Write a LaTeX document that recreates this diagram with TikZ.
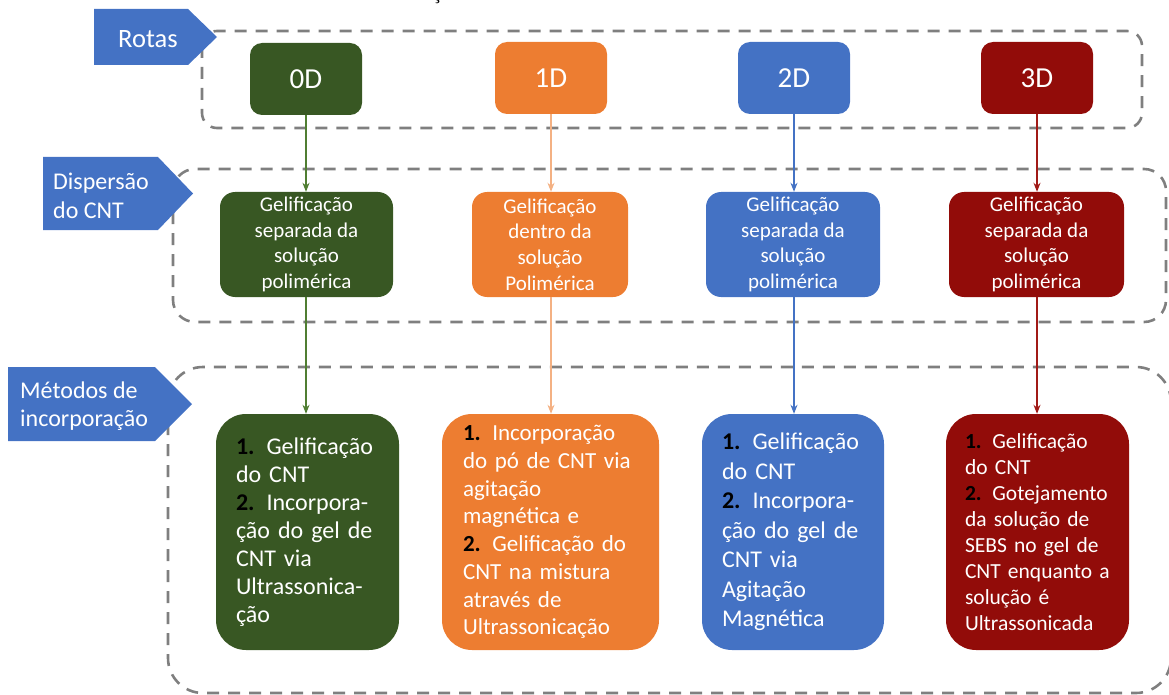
\documentclass[tikz,border=0pt]{standalone}
\usepackage{fontspec}
\setmainfont{Carlito}
\newfontfamily\serifcut{Liberation Serif}
\usetikzlibrary{arrows.meta}
\definecolor{cgreen}{HTML}{385723}
\definecolor{corange}{HTML}{ED7D31}
\definecolor{cblue}{HTML}{4472C4}
\definecolor{cred}{HTML}{920C09}
\definecolor{lgreen}{HTML}{507E32}
\definecolor{lorange}{HTML}{F4B183}
\definecolor{lblue}{HTML}{4472C4}
\definecolor{lred}{HTML}{A11A17}
\definecolor{dgray}{HTML}{7F7F7F}
\newcommand{\nb}[1]{\textbf{\color{black}#1}}
\begin{document}
\begin{tikzpicture}[x=1pt,y=-1pt,
 frame/.style={draw=dgray, line width=2.6pt, dash pattern=on 12pt off 9pt},
 banner/.style={fill=cblue},
 bannertext/.style={text=white, align=left, inner sep=0pt, font=\fontsize{24}{28.5}\selectfont},
 topbox/.style={rounded corners=12pt, minimum width=112pt, minimum height=72pt, inner sep=0pt, text=white, font=\fontsize{29}{32}\selectfont},
 midbox/.style={rounded corners=15pt, minimum height=105pt, inner sep=0pt, text=white, align=center, font=\fontsize{21}{25.7}\selectfont},
 botbox/.style={rounded corners=30pt, minimum height=236pt, inner xsep=20pt, inner ysep=0pt, text=white, align=left},
 arr/.style={line width=1.2pt, -{Stealth[length=9pt,width=7pt]}},
]
\useasboundingbox (0,0) rectangle (1169,695);

% stray glyph at the top edge
\node[font=\fontsize{20}{20}\selectfont\serifcut, anchor=base, inner sep=0pt] (ced) at (437,0) {ç};

% dashed frames
\draw[frame, rounded corners=15pt] (202,31) rectangle (1142,128);
\draw[frame, rounded corners=22pt] (173,169) rectangle (1166,322);
\draw[frame, rounded corners=35pt] (168,367) rectangle (1171,693);

% banners
\fill[banner] (94,9) -- (188,9) -- (217,37) -- (188,65) -- (94,65) -- cycle;
\fill[banner] (43,157) -- (158,157) -- (193,193.5) -- (158,230) -- (43,230) -- cycle;
\fill[banner] (8,367) -- (155,367) -- (192,404) -- (155,441) -- (8,441) -- cycle;
\node[bannertext, anchor=base west, font=\fontsize{26.5}{30}\selectfont] (lrotas) at (118,48) {Rotas};
\node[bannertext, anchor=west] (ldisp) at (53,196) {Dispersão\\do CNT};
\node[bannertext, anchor=west] (lmet) at (20,406) {Métodos de\\incorporação};

% top boxes
\node[topbox, fill=cgreen] (t0) at (306,79) {0D};
\node[topbox, fill=corange] (t1) at (551,78) {1D};
\node[topbox, fill=cblue] (t2) at (794,78) {2D};
\node[topbox, fill=cred] (t3) at (1037,78) {3D};

% middle boxes
\node[midbox, fill=cgreen, minimum width=173pt] (m0) at (306.5,244.5) {Gelificação\\separada da\\solução\\polimérica};
\node[midbox, fill=corange, minimum width=156pt] (m1) at (550,244.5) {Gelificação\\dentro da\\solução\\Polimérica};
\node[midbox, fill=cblue, minimum width=174pt] (m2) at (793,244.5) {Gelificação\\separada da\\solução\\polimérica};
\node[midbox, fill=cred, minimum width=175pt] (m3) at (1036.5,244.5) {Gelificação\\separada da\\solução\\polimérica};

% bottom boxes
\node[botbox, fill=cgreen, minimum width=183pt, text width=143pt, font=\fontsize{24}{28}\selectfont] (b0) at (307.5,532)
 {\nb{1.} Gelificação\\do CNT\\\nb{2.} Incorpora-\\ção do gel de\\CNT via\\Ultrassonica-\\ção};
\node[botbox, fill=corange, minimum width=217pt, text width=175pt, inner xsep=21pt, font=\fontsize{23}{27.7}\selectfont] (b1) at (550.5,532)
 {\nb{1.} Incorporação\\do pó de CNT via\\agitação\\magnética e\\\nb{2.} Gelificação do\\CNT na mistura\\através de\\Ultrassonicação};
\node[botbox, fill=cblue, minimum width=182pt, text width=142pt, font=\fontsize{24}{29.5}\selectfont] (b2) at (793,532)
 {\nb{1.} Gelificação\\do CNT\\\nb{2.} Incorpora-\\ção do gel de\\CNT via\\Agitação\\Magnética};
\node[botbox, fill=cred, minimum width=183pt, text width=155pt, inner xsep=14pt, font=\fontsize{21.5}{26}\selectfont] (b3) at (1037.5,532)
 {\hspace*{5pt}\nb{1.} Gelificação\\\hspace*{5pt}do CNT\\\hspace*{5pt}\nb{2.} Gotejamento\\\hspace*{5pt}da solução de\\\hspace*{5pt}SEBS no gel de\\\hspace*{5pt}CNT enquanto a\\\hspace*{5pt}solução é\\\hspace*{5pt}Ultrassonicada};

% connectors
\draw[arr, lgreen] (t0.south) -- (t0.south |- m0.north);
\draw[arr, lorange] (t1.south) -- (t1.south |- m1.north);
\draw[arr, lblue] (t2.south) -- (t2.south |- m2.north);
\draw[arr, lred] (t3.south) -- (t3.south |- m3.north);
\draw[arr, lgreen] (t0.south |- m0.south) -- (t0.south |- b0.north);
\draw[arr, lorange] (t1.south |- m1.south) -- (t1.south |- b1.north);
\draw[arr, lblue] (t2.south |- m2.south) -- (t2.south |- b2.north);
\draw[arr, lred] (t3.south |- m3.south) -- (t3.south |- b3.north);
\end{tikzpicture}
\end{document}
